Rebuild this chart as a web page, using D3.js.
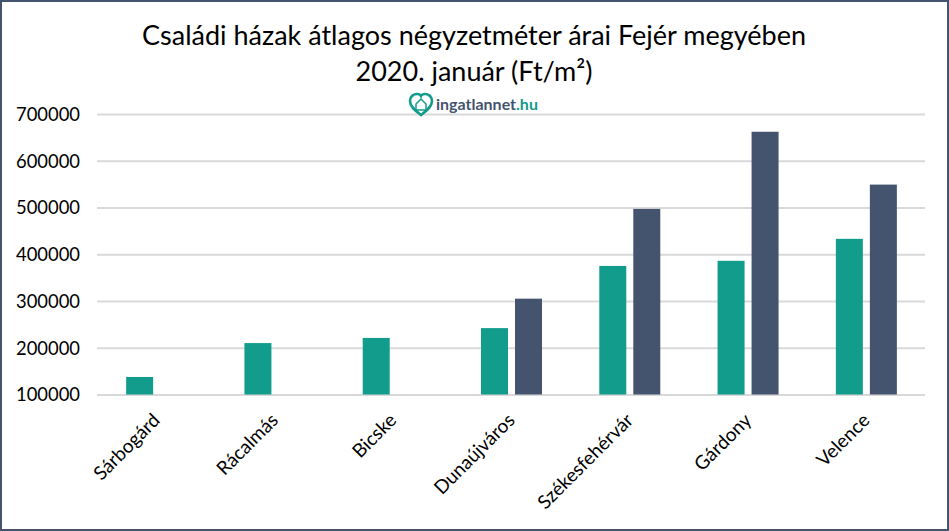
<!DOCTYPE html>
<html>
<head>
<meta charset="utf-8">
<script src="https://cdn.jsdelivr.net/npm/d3@7"></script>
<style>
html, body { margin: 0; padding: 0; background: #fff; }
svg { display: block; }
text { font-family: Lato, "Open Sans", sans-serif; fill: #000; }
</style>
</head>
<body>
<div id="chart"></div>
<script>
// Data
const cities = ["Sárbogárd", "Rácalmás", "Bicske", "Dunaújváros", "Székesfehérvár", "Gárdony", "Velence"];
const seriesA = [137500, 210000, 221000, 242000, 375000, 386000, 433000];
const seriesB = [null, null, null, 305000, 497000, 662000, 549000];
const yTicks = [100000, 200000, 300000, 400000, 500000, 600000, 700000];
const titleLines = ["Családi házak átlagos négyzetméter árai Fejér megyében", "2020. január (Ft/m²)"];

const W = 949, H = 531;
const margin = { top: 114, right: 24, bottom: 136.5, left: 97 };
const navy = "#44546f", teal = "#129c8b";

const svg = d3.select("#chart").append("svg")
    .attr("width", W)
    .attr("height", H);

// Outer frame
svg.append("rect")
    .attr("x", 1).attr("y", 1)
    .attr("width", W - 2).attr("height", H - 2)
    .attr("fill", "#fff")
    .attr("stroke", navy)
    .attr("stroke-width", 2);

// Scales
const x = d3.scaleBand().domain(cities).range([margin.left, W - margin.right]);
const xInner = d3.scaleBand().domain(["a", "b"])
    .range([x.bandwidth() / 2 - 30, x.bandwidth() / 2 + 31])
    .paddingInner(0.206);
const y = d3.scaleLinear().domain([100000, 700000]).range([H - margin.bottom, margin.top]);

// Title
svg.append("g").selectAll("text")
    .data(titleLines)
    .join("text")
    .attr("x", 474)
    .attr("y", (d, i) => 45 + i * 36)
    .attr("text-anchor", "middle")
    .attr("font-size", 27)
    .text(d => d);

// Y axis with gridlines
const yAxis = svg.append("g")
    .attr("transform", `translate(${margin.left},0)`)
    .call(d3.axisLeft(y).tickValues(yTicks).tickFormat(d3.format("d"))
        .tickSize(-(W - margin.left - margin.right)).tickPadding(17));
yAxis.select(".domain").remove();
yAxis.selectAll("line").attr("stroke", "#d9d9d9").attr("stroke-width", 2);
yAxis.selectAll("text")
    .attr("font-size", 20)
    .attr("textLength", 64)
    .attr("lengthAdjust", "spacingAndGlyphs")
    .style("font-family", "Lato");

// Bars
const drawBars = (values, key, color) => {
    svg.append("g").selectAll("rect")
        .data(values.map((v, i) => ({ city: cities[i], v })).filter(d => d.v !== null))
        .join("rect")
        .attr("x", d => x(d.city) + xInner(key))
        .attr("y", d => y(d.v))
        .attr("width", xInner.bandwidth())
        .attr("height", d => y(100000) - y(d.v))
        .attr("fill", color);
};
drawBars(seriesA, "a", teal);
drawBars(seriesB, "b", navy);

// Category labels
const xAxis = svg.append("g")
    .attr("transform", `translate(0,${H - margin.bottom})`)
    .call(d3.axisBottom(x).tickSize(0).tickPadding(0));
xAxis.select(".domain").remove();
xAxis.selectAll("text")
    .attr("font-size", 19)
    .style("font-family", "Lato")
    .attr("text-anchor", "end")
    .attr("dy", 0)
    .attr("transform", "translate(5,27) rotate(-45)");

// Logo
const logo = svg.append("g").attr("transform", "translate(421,105)");
logo.append("path")
    .attr("d", "M0,10 C-5,6 -11,2 -11,-4 C-11,-9 -7,-11 -4,-11 C-2,-11 -0.5,-10 0,-9 C0.5,-10 2,-11 4,-11 C7,-11 11,-9 11,-4 C11,2 5,6 0,10 Z")
    .attr("fill", "none")
    .attr("stroke", teal)
    .attr("stroke-width", 2.6);
logo.append("path")
    .attr("d", "M-5,-1 L0,-6 L5,-1 L5,5 L-5,5 Z")
    .attr("fill", "none")
    .attr("stroke", teal)
    .attr("stroke-width", 1.5);
const logoText = svg.append("text")
    .attr("x", 436)
    .attr("y", 110)
    .attr("font-size", 16)
    .attr("font-weight", 700)
    .style("fill", navy);
logoText.append("tspan").style("fill", navy).text("ingatlannet");
logoText.append("tspan").style("fill", teal).text(".hu");
</script>
</body>
</html>
